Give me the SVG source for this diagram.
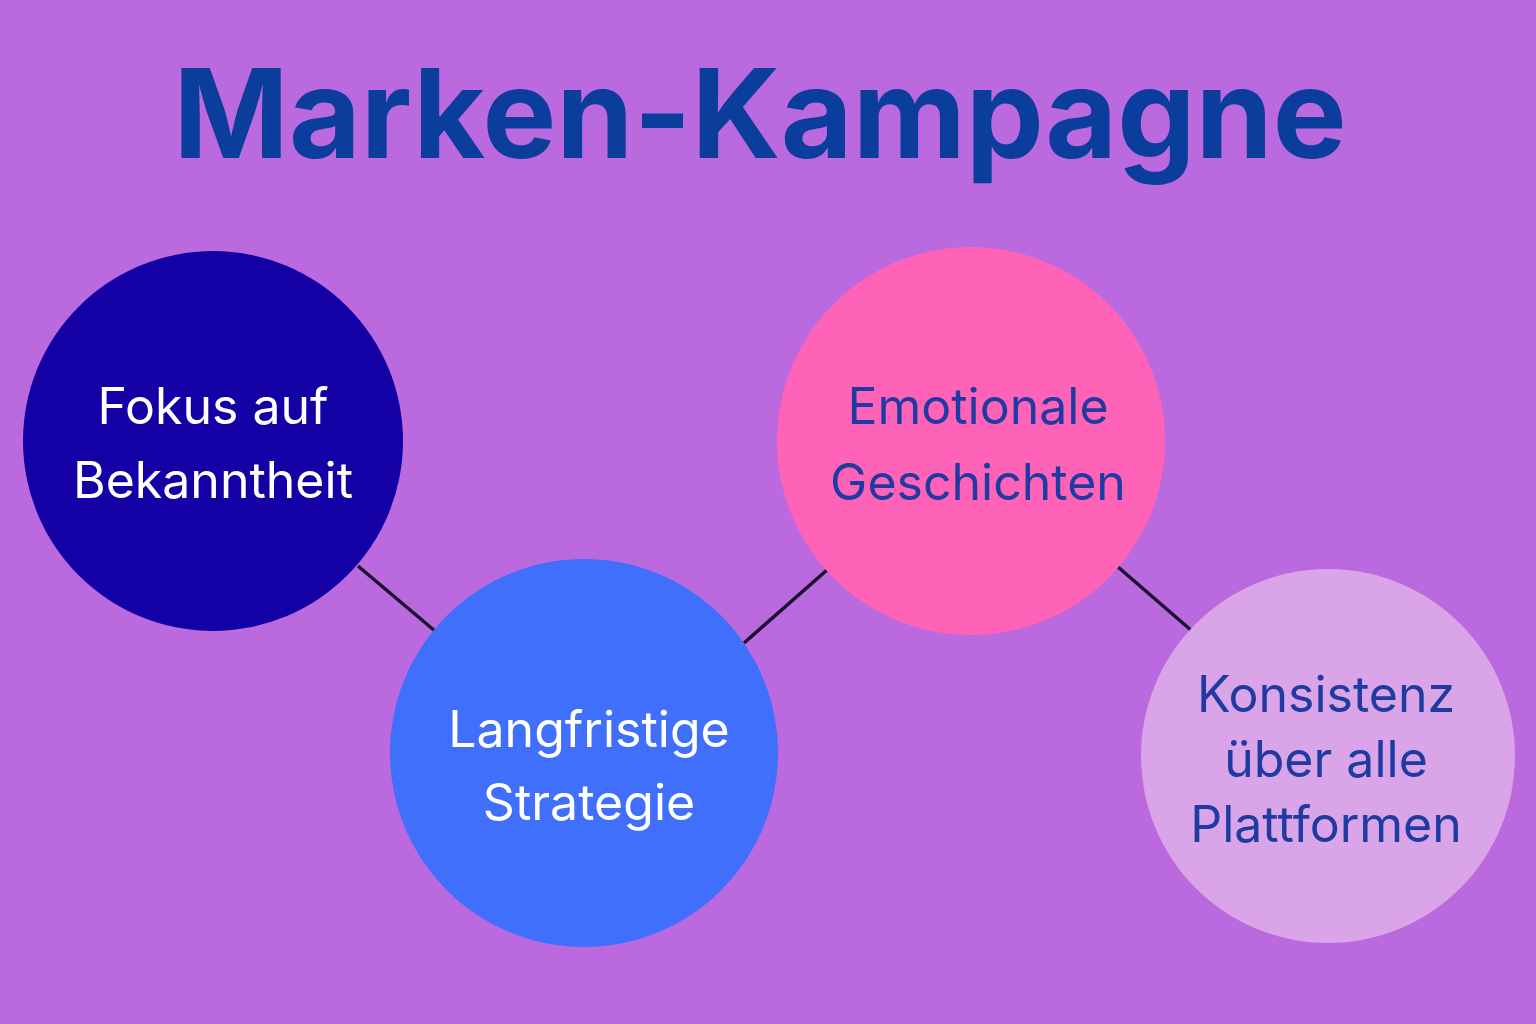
<svg xmlns="http://www.w3.org/2000/svg" width="1536" height="1024" viewBox="0 0 1536 1024">
<style>
.t{font-family:Inter,"Noto Sans",sans-serif;font-size:50px;text-anchor:middle}
.w{fill:#ffffff}.b{fill:#1f3aa0}
.c line{stroke:#1a1030;stroke-width:3.5}
</style>
<rect width="1536" height="1024" fill="#bb69df"/>
<text x="760" y="158" font-family="Inter,'Noto Sans',sans-serif" font-size="124" font-weight="bold" fill="#0a3d9c" text-anchor="middle">Marken-Kampagne</text>
<g class="c">
<line x1="358" y1="566" x2="435" y2="631"/>
<line x1="744" y1="643" x2="827" y2="570"/>
<line x1="1118" y1="567" x2="1192" y2="631"/>
</g>
<g id="n1"><circle cx="213" cy="441" r="190" fill="#1401a6"/>
<text class="t w" x="213" y="424">Fokus auf</text><text class="t w" x="213" y="498">Bekanntheit</text></g>
<g id="n2"><circle cx="584" cy="753" r="194" fill="#3f6ffb"/>
<text class="t w" x="589" y="747">Langfristige</text><text class="t w" x="589" y="820">Strategie</text></g>
<g id="n3"><circle cx="971" cy="441" r="194" fill="#ff63b8"/>
<text class="t b" x="978" y="424">Emotionale</text><text class="t b" x="978" y="500">Geschichten</text></g>
<g id="n4"><circle cx="1328" cy="756" r="187" fill="#d9a4e8"/>
<text class="t b" x="1326" y="712" font-size="46">Konsistenz</text><text class="t b" x="1326" y="777" font-size="46">über alle</text><text class="t b" x="1326" y="842" font-size="46">Plattformen</text></g>
</svg>
